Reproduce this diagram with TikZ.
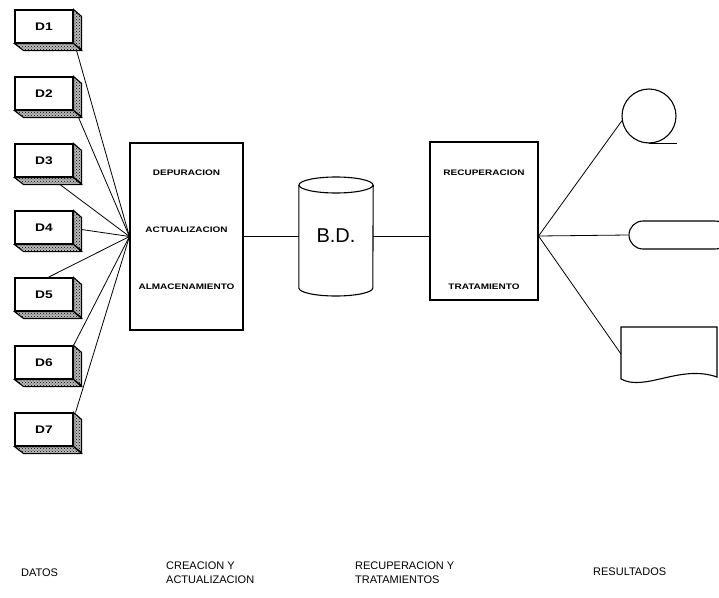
\documentclass[tikz,border=0pt]{standalone}
\usepackage{fontspec}
\setmainfont{Liberation Sans}
\usetikzlibrary{calc,patterns,backgrounds}
\newcommand{\ancho}[1]{\scalebox{1.25}[1]{#1}}

\begin{document}
\begin{tikzpicture}[x=1pt,y=-1pt]
    \tikzstyle{dato}=[draw,line width=1.1pt,fill=white,minimum width=58pt,
        minimum height=33pt,inner sep=0pt,font=\fontsize{11}{13}\selectfont\bfseries]
    \tikzstyle{sombra}=[draw,line width=1.1pt,preaction={fill=gray!55},pattern=crosshatch dots]
    \tikzstyle{caja}=[draw,line width=1.1pt,inner sep=0pt]
    \tikzstyle{tarea}=[font=\fontsize{8}{10}\selectfont\bfseries]
    \tikzstyle{titulo}=[anchor=west,align=left,inner sep=0pt,font=\fontsize{11}{14}\selectfont]
    \tikzstyle{linea}=[line width=0.8pt]
    \useasboundingbox (0,0) rectangle (719,597);
    \clip (0,0) rectangle (719,597);
    % Datos
    \node[dato] (d1) at (44,26.5) {\ancho{D1}};
    \node[dato] (d2) at (44,93.5) {\ancho{D2}};
    \node[dato] (d3) at (44,160.5) {\ancho{D3}};
    \node[dato] (d4) at (44,227.5) {\ancho{D4}};
    \node[dato] (d5) at (44,294.5) {\ancho{D5}};
    \node[dato] (d6) at (44,362.5) {\ancho{D6}};
    \node[dato] (d7) at (44,429.5) {\ancho{D7}};
    % Sombras de las cajas
    \draw[sombra] (d1.north east) -- ++(8,7) -- ++(0,33) -- (d1.south east) -- cycle;
    \draw[sombra] (d1.south west) -- (d1.south east) -- ++(8,7) -- ++(-58,0) -- cycle;
    \draw[sombra] (d2.north east) -- ++(8,7) -- ++(0,33) -- (d2.south east) -- cycle;
    \draw[sombra] (d2.south west) -- (d2.south east) -- ++(8,7) -- ++(-58,0) -- cycle;
    \draw[sombra] (d3.north east) -- ++(8,7) -- ++(0,33) -- (d3.south east) -- cycle;
    \draw[sombra] (d3.south west) -- (d3.south east) -- ++(8,7) -- ++(-58,0) -- cycle;
    \draw[sombra] (d4.north east) -- ++(8,7) -- ++(0,33) -- (d4.south east) -- cycle;
    \draw[sombra] (d4.south west) -- (d4.south east) -- ++(8,7) -- ++(-58,0) -- cycle;
    \draw[sombra] (d5.north east) -- ++(8,7) -- ++(0,33) -- (d5.south east) -- cycle;
    \draw[sombra] (d5.south west) -- (d5.south east) -- ++(8,7) -- ++(-58,0) -- cycle;
    \draw[sombra] (d6.north east) -- ++(8,7) -- ++(0,33) -- (d6.south east) -- cycle;
    \draw[sombra] (d6.south west) -- (d6.south east) -- ++(8,7) -- ++(-58,0) -- cycle;
    \draw[sombra] (d7.north east) -- ++(8,7) -- ++(0,33) -- (d7.south east) -- cycle;
    \draw[sombra] (d7.south west) -- (d7.south east) -- ++(8,7) -- ++(-58,0) -- cycle;
    % Creacion y actualizacion
    \node[caja,minimum width=113pt,minimum height=187pt] (crea) at (186.5,236.5) {};
    \node[tarea] (depur) at (186.5,173) {\ancho{DEPURACION}};
    \node[tarea] (actual) at (186.5,230) {\ancho{ACTUALIZACION}};
    \node[tarea] (almac) at (186.5,287) {\ancho{ALMACENAMIENTO}};
    % Base de datos
    \node[font=\fontsize{20}{24}\selectfont,minimum width=74pt,inner sep=0pt] (bd) at (336,236) {B.D.};
    \draw[line width=1.1pt] (bd.west |- 0,185) -- (bd.west |- 0,288)
        arc[start angle=180,end angle=0,x radius=37,y radius=8] -- (bd.east |- 0,185);
    \draw[line width=1.1pt] (336,185) ellipse [x radius=37,y radius=8];
    % Recuperacion y tratamientos
    \node[caja,minimum width=108pt,minimum height=158pt] (recu) at (484,221) {};
    \node[tarea] (recup) at (484,173) {\ancho{RECUPERACION}};
    \node[tarea] (trat) at (484,287) {\ancho{TRATAMIENTO}};
    \coordinate (sal) at (recu.east |- bd);
    % Resultados
    \node[draw,line width=1.1pt,circle,minimum size=54pt,inner sep=0pt] (cinta) at (649,116) {};
    \draw[line width=1.1pt] (cinta.south) -- ++(28,0);
    \node[draw,line width=1.1pt,rounded corners=14pt,minimum width=100pt,minimum height=28pt] (term) at (679,235) {};
    \draw[line width=1.1pt] (621,327) -- (717,327) -- (717,377)
        .. controls (680,364) and (645,392) .. (621,379) -- cycle;
    \coordinate (doc) at (621,354);
    % Lineas
    \begin{scope}[on background layer]
    \draw[linea] (crea.west) -- ($(d1.south east)+(3,7)$);
    \draw[linea] (crea.west) -- ($(d2.south east)+(5,7)$);
    \draw[linea] (crea.west) -- ($(d3.south)+(16,7)$);
    \draw[linea] (crea.west) -- ($(d4.east)+(8,2)$);
    \draw[linea] (crea.west) -- ($(d5.north)+(4,0)$);
    \draw[linea] (crea.west) -- (d6.north east);
    \draw[linea] (crea.west) -- ($(d7.north east)+(2,0)$);
    \end{scope}
    \draw[linea] (crea.east |- bd) -- (bd.west);
    \draw[linea] (bd.east) -- (bd.east -| recu.west);
    \draw[linea] (sal) -- (cinta.190);
    \draw[linea] (sal) -- (term.west);
    \draw[linea] (sal) -- (doc);
    % Titulos
    \node[titulo] (datos) at (21,573) {DATOS};
    \node[titulo] (creacion) at (166,573) {CREACION Y\\ACTUALIZACION};
    \node[titulo] (recuperacion) at (355,573) {RECUPERACION Y\\TRATAMIENTOS};
    \node[titulo] (resultados) at (593,572) {RESULTADOS};
\end{tikzpicture}
\end{document}
